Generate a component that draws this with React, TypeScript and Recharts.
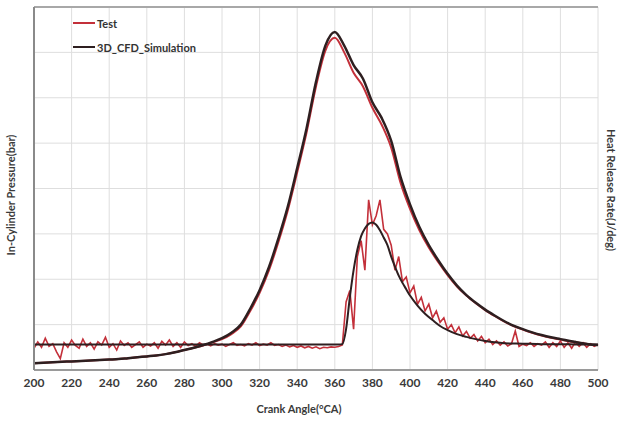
import React from "react";
import {
  LineChart,
  Line,
  XAxis,
  YAxis,
  CartesianGrid,
  ReferenceLine,
} from "recharts";

// crank angle grid
const X_TICKS = [200, 220, 240, 260, 280, 300, 320, 340, 360, 380, 400, 420, 440, 460, 480, 500];
const Y_TICKS = [0, 1, 2, 3, 4, 5, 6, 7, 8];
const Y_MAX = 8;
const P_START = 200;
const P_STEP = 5;
const HRR_STEP = 2;

// in-cylinder pressure (chart units 0..8, 5 deg step)
const simPressure = [
  0.15, 0.16, 0.17, 0.18, 0.19, 0.2, 0.21, 0.22, 0.23, 0.24,
  0.26, 0.28, 0.3, 0.32, 0.35, 0.39, 0.44, 0.49, 0.55, 0.62,
  0.7, 0.82, 1.0, 1.35, 1.76, 2.27, 2.9, 3.6, 4.45, 5.33,
  6.35, 7.15, 7.45, 7.15, 6.72, 6.42, 5.9, 5.55, 5.05, 4.25,
  3.65, 3.15, 2.75, 2.42, 2.12, 1.86, 1.65, 1.48, 1.33, 1.2,
  1.08, 0.98, 0.9, 0.83, 0.77, 0.72, 0.68, 0.64, 0.6, 0.57,
  0.55,
];
const testPressure = [
  0.15, 0.16, 0.17, 0.18, 0.19, 0.2, 0.21, 0.22, 0.23, 0.24,
  0.26, 0.28, 0.3, 0.32, 0.35, 0.39, 0.44, 0.49, 0.54, 0.61,
  0.68, 0.79, 0.96, 1.3, 1.7, 2.2, 2.82, 3.52, 4.36, 5.24,
  6.25, 7.04, 7.32, 7.0, 6.55, 6.25, 5.78, 5.4, 4.9, 4.12,
  3.55, 3.08, 2.7, 2.38, 2.09, 1.84, 1.64, 1.47, 1.32, 1.19,
  1.07, 0.97, 0.89, 0.82, 0.76, 0.71, 0.67, 0.63, 0.6, 0.57,
  0.55,
];

// heat release rate (2 deg step)
const testHrr = [
  0.48, 0.62, 0.5, 0.7, 0.52, 0.58, 0.4, 0.25, 0.6, 0.5,
  0.66, 0.54, 0.48, 0.68, 0.52, 0.6, 0.46, 0.62, 0.55, 0.72,
  0.5, 0.58, 0.44, 0.64, 0.54, 0.6, 0.5, 0.56, 0.62, 0.5,
  0.57, 0.53, 0.6, 0.48, 0.63, 0.55, 0.66, 0.52, 0.6, 0.5,
  0.62, 0.54, 0.58, 0.52, 0.6, 0.55, 0.57, 0.53, 0.58, 0.55,
  0.57, 0.52, 0.56, 0.6, 0.54, 0.56, 0.53, 0.58, 0.55, 0.6,
  0.54, 0.57, 0.55, 0.6, 0.54, 0.56, 0.52, 0.55, 0.51, 0.54,
  0.5, 0.53, 0.49, 0.52, 0.48, 0.51, 0.47, 0.5, 0.49, 0.51,
  0.5, 0.52, 0.55, 1.5, 1.75, 0.9, 2.5, 2.85, 2.2, 3.75,
  3.2, 3.4, 3.75, 3.1, 3.0, 2.75, 2.2, 2.5, 1.95, 2.05,
  1.7, 1.85, 1.45, 1.6, 1.3, 1.45, 1.15, 1.3, 1.05, 1.15,
  0.9, 1.0, 0.82, 0.95, 0.75, 0.85, 0.7, 0.78, 0.64, 0.74,
  0.6, 0.68, 0.56, 0.64, 0.55, 0.62, 0.53, 0.58, 0.86, 0.52,
  0.57, 0.54, 0.6, 0.52, 0.58, 0.55, 0.62, 0.5, 0.6, 0.52,
  0.64, 0.5, 0.6, 0.48, 0.62, 0.52, 0.6, 0.5, 0.58, 0.52,
  0.56,
];
const simHrrAngles = [
  200, 250, 300, 350, 362, 364, 366, 368, 370, 372, 374, 376, 378, 380, 382,
  384, 386, 388, 390, 392, 394, 396, 398, 400, 404, 408, 412, 416, 420, 425,
  430, 435, 440, 445, 450, 460, 470, 480, 490, 500,
];
const simHrr = [
  0.56, 0.56, 0.56, 0.56, 0.56, 0.57, 0.9, 1.6, 2.2, 2.65, 2.95, 3.12, 3.22, 3.25, 3.2,
  3.08, 2.92, 2.75, 2.5, 2.28, 2.08, 1.92, 1.78, 1.64, 1.42, 1.24, 1.1, 0.97, 0.88, 0.79,
  0.73, 0.68, 0.64, 0.61, 0.59, 0.58, 0.57, 0.57, 0.56, 0.56,
];

const RED = "#c3303a";
const DARK = "#2e1f20";
const FONT = "Lato, 'Liberation Sans', sans-serif";

const simPData = simPressure.map((y, i) => ({ x: P_START + i * P_STEP, y }));
const testPData = testPressure.map((y, i) => ({ x: P_START + i * P_STEP, y }));
const testHData = testHrr.map((y, i) => ({ x: P_START + i * HRR_STEP, y }));
const simHData = simHrr.map((y, i) => ({ x: simHrrAngles[i], y }));

const titleProps = {
  fontFamily: FONT,
  fontWeight: "bold",
  fontSize: 11,
  fill: "#3a3a3a",
  textAnchor: "middle" as const,
};

const LeftTitle = () => (
  <text x={15} y={195} transform="rotate(-90 15 195)" {...titleProps}>
    In-Cylinder Pressure(bar)
  </text>
);

const RightTitle = () => (
  <text x={607} y={190} transform="rotate(90 607 190)" {...titleProps}>
    Heat Release Rate(J/deg)
  </text>
);

const BottomTitle = () => (
  <text x={299} y={413} {...titleProps}>
    Crank Angle(°CA)
  </text>
);

const legendItems = [
  { name: "Test", color: RED },
  { name: "3D_CFD_Simulation", color: DARK },
];

export default function App() {
  return (
    <div style={{ position: "absolute", left: 0, top: 0, width: 619, height: 421, background: "#fff" }}>
      <LineChart width={619} height={421} data={simPData} margin={{ top: 7, right: 0, left: 0, bottom: 0 }}>
        <CartesianGrid stroke="#dedede" strokeWidth={1} />
        <XAxis
          type="number"
          dataKey="x"
          domain={[200, 500]}
          ticks={X_TICKS}
          interval={0}
          height={51}
          tickLine={false}
          axisLine={{ stroke: "#9a9a9a", strokeWidth: 2 }}
          tick={{ fill: "#3a3a3a", fontSize: 12, fontWeight: "bold", fontFamily: FONT }}
          label={<BottomTitle />}
        />
        <YAxis
          type="number"
          domain={[0, Y_MAX]}
          ticks={Y_TICKS}
          interval={0}
          width={34}
          tick={false}
          tickLine={false}
          axisLine={{ stroke: "#8a8a8a", strokeWidth: 2 }}
          label={<LeftTitle />}
        />
        <YAxis
          yAxisId="h"
          orientation="right"
          type="number"
          domain={[0, Y_MAX]}
          width={21}
          tick={false}
          tickLine={false}
          axisLine={false}
          label={<RightTitle />}
        />
        {Y_TICKS.map((t) => (
          <ReferenceLine
            key={t}
            y={t}
            stroke={t === Y_MAX ? "#a8a8a8" : "#dedede"}
            strokeWidth={t === Y_MAX ? 2 : 1}
            ifOverflow="visible"
          />
        ))}
        <Line data={testPData} dataKey="y" name="Test" type="monotone" stroke={RED} strokeWidth={2} dot={false} isAnimationActive={false} />
        <Line yAxisId="h" data={testHData} dataKey="y" name="Test HRR" type="linear" stroke={RED} strokeWidth={1.6} dot={false} isAnimationActive={false} />
        <Line data={simPData} dataKey="y" name="3D_CFD_Simulation" type="monotone" stroke={DARK} strokeWidth={2.5} dot={false} isAnimationActive={false} />
        <Line yAxisId="h" data={simHData} dataKey="y" name="Sim HRR" type="monotone" stroke={DARK} strokeWidth={2} dot={false} isAnimationActive={false} />
      </LineChart>
      <div
        style={{
          position: "absolute",
          left: 73,
          top: 11,
          fontFamily: FONT,
          fontWeight: "bold",
          fontSize: 11,
          color: "#333",
        }}
      >
        {legendItems.map((it) => (
          <div key={it.name} style={{ display: "flex", alignItems: "center", height: 24 }}>
            <span style={{ display: "inline-block", width: 22, height: 2, background: it.color, marginRight: 2 }} />
            {it.name}
          </div>
        ))}
      </div>
    </div>
  );
}
